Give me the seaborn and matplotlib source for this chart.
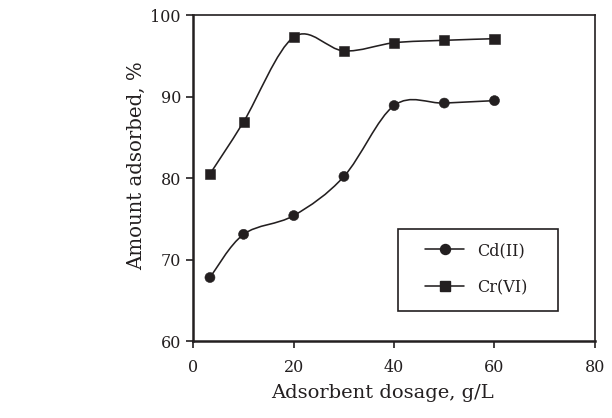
import numpy as np
import pandas as pd
import matplotlib
matplotlib.use("Agg")
import matplotlib.pyplot as plt
import seaborn as sns
from matplotlib.path import Path
from matplotlib.patches import PathPatch, Rectangle
from matplotlib.lines import Line2D

dosage = [3.3, 10, 20, 30, 40, 50, 60]
cd_vals = [67.8, 73.1, 75.4, 80.2, 88.9, 89.2, 89.5]
cr_vals = [80.5, 86.9, 97.3, 95.6, 96.6, 96.9, 97.1]
series_names = ["Cd(II)", "Cr(VI)"]
x_ticks = [0, 20, 40, 60, 80]
y_ticks = [60, 70, 80, 90, 100]

sns.set_theme(style="white")
plt.rcParams["font.family"] = ["DejaVu Serif"]

ink = "#231f20"

df = pd.DataFrame({
    "dosage": dosage * 2,
    "amount": cd_vals + cr_vals,
    "series": [series_names[0]] * len(dosage) + [series_names[1]] * len(dosage),
})

fig = plt.figure(figsize=(6.12, 4.18), dpi=100)
ax = fig.add_axes([0.316, 0.184, 0.656, 0.780])


def smooth_path(xs, ys):
    pts = np.column_stack([xs, ys]).astype(float)
    n = len(pts)
    verts = [pts[0]]
    codes = [Path.MOVETO]
    for i in range(n - 1):
        p0 = pts[i - 1] if i > 0 else pts[i]
        p1 = pts[i]
        p2 = pts[i + 1]
        p3 = pts[i + 2] if i + 2 < n else pts[i + 1]
        c1 = p1 + (p2 - p0) / 6.0
        c2 = p2 - (p3 - p1) / 6.0
        verts += [c1, c2, p2]
        codes += [Path.CURVE4] * 3
    return Path(verts, codes)


for name, vals in zip(series_names, [cd_vals, cr_vals]):
    ax.add_patch(PathPatch(smooth_path(dosage, vals), facecolor="none",
                           edgecolor=ink, lw=1.15, zorder=2))

sns.scatterplot(data=df, x="dosage", y="amount", style="series",
                markers={"Cd(II)": "o", "Cr(VI)": "s"},
                color=ink, s=52, edgecolor=ink, linewidth=0.4,
                legend=False, ax=ax, zorder=3)

ax.set_xlim(0, 80)
ax.set_ylim(60, 100)
ax.set_xticks(x_ticks)
ax.set_yticks(y_ticks)
ax.set_xlabel("Adsorbent dosage, g/L", fontsize=14, color=ink, labelpad=6,
              x=0.472)
ax.set_ylabel("Amount adsorbed, %", fontsize=14.2, color=ink, labelpad=3,
              y=0.537)
ax.tick_params(axis="both", which="major", direction="out", length=5,
               width=1.2, colors=ink, labelsize=11.5,
               bottom=True, left=True, top=False, right=False)
ax.tick_params(axis="x", pad=8)
ax.tick_params(axis="y", pad=4)
for sp in ax.spines.values():
    sp.set_color(ink)
    sp.set_linewidth(1.2)
ax.spines["left"].set_linewidth(1.8)
ax.spines["bottom"].set_linewidth(1.8)

handles = [
    Line2D([], [], color=ink, lw=1.15, marker="o", markersize=7.2),
    Line2D([], [], color=ink, lw=1.15, marker="s", markersize=7.2),
]
leg = ax.legend(handles, series_names, loc="center left",
                bbox_to_anchor=(0.577, 0.221), fontsize=11.5, frameon=False,
                borderpad=0, labelspacing=1.25, handlelength=2.44,
                handletextpad=0.85, borderaxespad=0)
for t in leg.get_texts():
    t.set_color(ink)
ax.add_patch(Rectangle((0.509, 0.092), 0.399, 0.252, transform=ax.transAxes,
                       facecolor="none", edgecolor=ink, lw=1.2, zorder=4))

fig.savefig("out.png", dpi=100)
